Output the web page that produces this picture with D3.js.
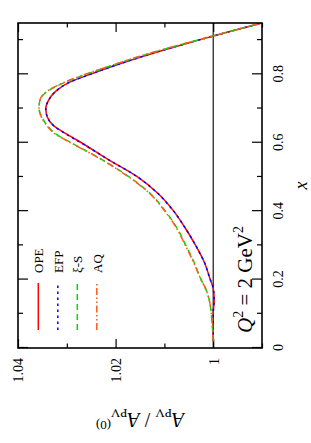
<!DOCTYPE html>
<html>
<head>
<meta charset="utf-8">
<script src="https://cdn.jsdelivr.net/npm/d3@7"></script>
<style>
  body { margin: 0; background: #fff; }
  svg { display: block; }
  text { font-family: "Liberation Serif", "DejaVu Serif", serif; fill: #000; }
</style>
</head>
<body>
<div id="chart"></div>
<script>
// values (x, A_PV / A_PV^(0))
var xVals = [0.02, 0.05, 0.10, 0.14, 0.175, 0.20, 0.25, 0.30, 0.35, 0.40, 0.45, 0.50, 0.55, 0.60, 0.625,
             0.65, 0.675, 0.70, 0.725, 0.75, 0.775, 0.80, 0.825, 0.85, 0.875, 0.90, 0.925, 0.95];
var ope  = [1.0000, 1.0000, 1.0000, 0.9998, 1.0000, 1.0006, 1.0018, 1.0036, 1.0057, 1.0081, 1.0112, 1.0155, 1.0214, 1.0270, 1.0300,
            1.0327, 1.0340, 1.0343, 1.0337, 1.0323, 1.0297, 1.0252, 1.0203, 1.0150, 1.0092, 1.0030, 0.9966, 0.9900];
var efp  = [1.0000, 1.0000, 1.0000, 0.9998, 1.0000, 1.0006, 1.0018, 1.0036, 1.0057, 1.0081, 1.0112, 1.0155, 1.0214, 1.0271, 1.0301,
            1.0327, 1.0340, 1.0343, 1.0337, 1.0323, 1.0297, 1.0252, 1.0203, 1.0150, 1.0092, 1.0030, 0.9966, 0.9900];
var xiS  = [1.0000, 1.0001, 1.0004, 1.0008, 1.0016, 1.0025, 1.0039, 1.0056, 1.0074, 1.0098, 1.0128, 1.0172, 1.0227, 1.0291, 1.0322,
            1.0340, 1.0351, 1.0357, 1.0355, 1.0340, 1.0306, 1.0260, 1.0210, 1.0156, 1.0096, 1.0032, 0.9967, 0.9900];
var aq   = [1.0000, 1.0001, 1.0004, 1.0008, 1.0016, 1.0025, 1.0040, 1.0057, 1.0075, 1.0099, 1.0129, 1.0173, 1.0228, 1.0292, 1.0323,
            1.0341, 1.0352, 1.0357, 1.0355, 1.0341, 1.0308, 1.0262, 1.0211, 1.0157, 1.0097, 1.0033, 0.9967, 0.9900];

var seriesNames = ["OPE", "EFP", "\u03be-S", "AQ"];
var seriesColors = ["#ff0000", "#0000ff", "#00dd00", "#ff5a1e"];
var seriesDash = [null, "2.5,3.5", "6,4", "7,2.5,1.5,2.5,1.5,2.5"];

var xTicks = [0, 0.2, 0.4, 0.6, 0.8];
var xTickLabels = ["0", "0.2", "0.4", "0.6", "0.8"];
var xMinor = [0.1, 0.3, 0.5, 0.7, 0.9];
var yTicks = [1.00, 1.02, 1.04];
var yTickLabels = ["1", "1.02", "1.04"];
var yMinor = [0.99, 1.01, 1.03];

// the whole plot is drawn upright and then turned a quarter turn
const pageW = 311, pageH = 443;
const W = 325, H = 244;

var svg = d3.select("#chart").append("svg")
    .attr("width", pageW)
    .attr("height", pageH);

var g = svg.append("g")
    .attr("transform", "translate(18,348) rotate(-90)");

var x = d3.scaleLinear().domain([0, 0.95]).range([0, W]);
var y = d3.scaleLinear().domain([0.99, 1.04]).range([H, 0]);

g.append("clipPath").attr("id", "clip")
  .append("rect").attr("width", W).attr("height", H);

// ticks on all four sides, pointing inward
function ticks(axis, tr) {
  var a = g.append("g").attr("transform", tr).call(axis);
  a.select(".domain").remove();
  a.selectAll("line").attr("stroke", "#000").attr("stroke-width", 1.2);
  return a;
}

var xb = ticks(d3.axisBottom(x).tickValues(xTicks).tickSize(-10)
    .tickFormat(function(d, i) { return xTickLabels[i]; }), "translate(0," + H + ")");
xb.selectAll("text").attr("y", 21).attr("dy", 0)
    .style("font-size", "14px").style("font-family", "Liberation Serif");
ticks(d3.axisBottom(x).tickValues(xMinor).tickSize(-5).tickFormat(""), "translate(0," + H + ")");
ticks(d3.axisTop(x).tickValues(xTicks).tickSize(-10).tickFormat(""), "translate(0,0)");
ticks(d3.axisTop(x).tickValues(xMinor).tickSize(-5).tickFormat(""), "translate(0,0)");

var yl = ticks(d3.axisLeft(y).tickValues(yTicks).tickSize(-9)
    .tickFormat(function(d, i) { return yTickLabels[i]; }), "translate(0,0)");
yl.selectAll("text").attr("x", -10).attr("dy", "0.35em")
    .style("font-size", "14px").style("font-family", "Liberation Serif");
ticks(d3.axisLeft(y).tickValues(yMinor).tickSize(-4.5).tickFormat(""), "translate(0,0)");
ticks(d3.axisRight(y).tickValues(yTicks).tickSize(-9).tickFormat(""), "translate(" + W + ",0)");
ticks(d3.axisRight(y).tickValues(yMinor).tickSize(-4.5).tickFormat(""), "translate(" + W + ",0)");

// reference line at 1
g.append("line")
    .attr("x1", x(0)).attr("x2", x(0.95))
    .attr("y1", y(1)).attr("y2", y(1))
    .attr("stroke", "#000").attr("stroke-width", 1.1);

var line = d3.line()
    .x(function(d, i) { return x(xVals[i]); })
    .y(function(d) { return y(d); })
    .curve(d3.curveMonotoneX);

var allSeries = [ope, efp, xiS, aq];
var curves = g.append("g").attr("clip-path", "url(#clip)");
allSeries.forEach(function(s, i) {
  curves.append("path")
      .attr("d", line(s))
      .attr("fill", "none")
      .attr("stroke", seriesColors[i])
      .attr("stroke-width", 1.5)
      .attr("stroke-dasharray", seriesDash[i]);
});

// frame
g.append("rect")
    .attr("width", W).attr("height", H)
    .attr("fill", "none").attr("stroke", "#000").attr("stroke-width", 1.6);

// legend
var leg = g.append("g");
seriesNames.forEach(function(n, i) {
  var ly = 20.3 + i * 19.5;
  leg.append("line")
      .attr("x1", 18).attr("x2", 65)
      .attr("y1", ly).attr("y2", ly)
      .attr("stroke", seriesColors[i])
      .attr("stroke-width", 1.5)
      .attr("stroke-dasharray", seriesDash[i]);
  leg.append("text")
      .attr("x", 75).attr("y", ly + 4.7)
      .style("font-size", "13px")
      .text(n);
});

// Q^2 note
var q = g.append("text")
    .attr("x", 15).attr("y", 234)
    .style("font-size", "21px");
q.append("tspan").style("font-style", "italic").text("Q");
q.append("tspan").attr("dy", -9).style("font-size", "14px").text("2");
q.append("tspan").attr("dy", 9).text(" = 2 GeV");
q.append("tspan").attr("dy", -9).style("font-size", "14px").text("2");

// axis titles
g.append("text")
    .attr("x", W / 2).attr("y", 289)
    .attr("text-anchor", "middle")
    .style("font-size", "18px").style("font-style", "italic")
    .text("x");

var yt = g.append("text")
    .attr("transform", "translate(-65," + (H / 2) + ") rotate(-90)")
    .attr("text-anchor", "middle")
    .style("font-size", "20px");
yt.append("tspan").style("font-style", "italic").text("A");
yt.append("tspan").attr("dy", 4).style("font-size", "13px").text("PV");
yt.append("tspan").attr("dy", -4).text(" / ");
yt.append("tspan").style("font-style", "italic").text("A");
yt.append("tspan").attr("dy", 4).style("font-size", "13px").text("PV");
yt.append("tspan").attr("dy", -12).style("font-size", "13px").text("(0)");
</script>
</body>
</html>
